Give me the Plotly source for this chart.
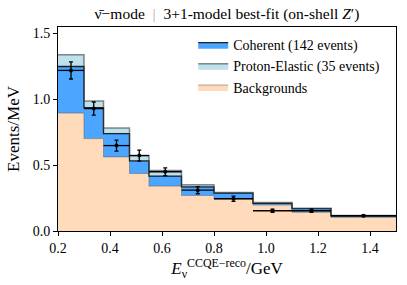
import plotly.graph_objects as go

bin_edges = [0.2, 0.3, 0.375, 0.475, 0.55, 0.675, 0.8, 0.95, 1.1, 1.25, 1.5]
backgrounds = [0.896, 0.702, 0.563, 0.437, 0.341, 0.270, 0.243, 0.197, 0.142, 0.104]
coherent = [0.354, 0.235, 0.177, 0.096, 0.076, 0.065, 0.045, 0.013, 0.028, 0.011]
proton_elastic = [0.090, 0.050, 0.043, 0.040, 0.043, 0.016, 0.005, 0.007, 0.003, 0.002]
data = [1.22, 0.93, 0.649, 0.573, 0.45, 0.31, 0.245, 0.154, 0.154, 0.116]
data_err = [0.065, 0.05, 0.042, 0.042, 0.03, 0.027, 0.02, 0.012, 0.012, 0.007]

x_ticks = [0.2, 0.4, 0.6, 0.8, 1.0, 1.2, 1.4]
y_ticks = [0.0, 0.5, 1.0, 1.5]

FONT = "Liberation Serif"

lvl1 = backgrounds
lvl2 = [b + c for b, c in zip(backgrounds, coherent)]
lvl3 = [a + p for a, p in zip(lvl2, proton_elastic)]

def steps(v):
    return list(v) + [v[-1]]

centers = [(a + b) / 2 for a, b in zip(bin_edges[:-1], bin_edges[1:])]
halfw = [(b - a) / 2 for a, b in zip(bin_edges[:-1], bin_edges[1:])]

fig = go.Figure()
fig.add_trace(go.Scatter(
    x=bin_edges, y=steps(lvl1), mode="lines", line_shape="hv",
    fill="tozeroy", fillcolor="#FFDABB",
    line=dict(color="rgba(90,90,90,0.5)", width=1),
    name="Backgrounds", legendrank=3))
fig.add_trace(go.Scatter(
    x=bin_edges, y=steps(lvl2), mode="lines", line_shape="hv",
    fill="tonexty", fillcolor="#4CA6FF",
    line=dict(color="rgba(0,0,0,0.85)", width=1.3),
    name="Coherent (142 events)", legendrank=1))
fig.add_trace(go.Scatter(
    x=bin_edges, y=steps(lvl3), mode="lines", line_shape="hv",
    fill="tonexty", fillcolor="#BEE1EC",
    line=dict(color="rgba(60,60,60,0.6)", width=1.5),
    name="Proton-Elastic (35 events)", legendrank=2))
fig.add_trace(go.Scatter(
    x=centers, y=data, mode="markers",
    marker=dict(color="black", size=4),
    error_y=dict(type="data", array=data_err, color="black", thickness=1.3, width=2),
    error_x=dict(type="data", array=halfw, color="black", thickness=1.3, width=0),
    showlegend=False))

fig.update_layout(
    width=407, height=285,
    margin=dict(l=58, r=11, t=27, b=54, autoexpand=False),
    paper_bgcolor="white", plot_bgcolor="white",
    font=dict(family=FONT, size=14, color="black"),
    title=dict(text="ν̄−mode  <span style='color:#aaaaaa'>|</span>  3+1-model best-fit (on-shell <i>Z</i>′)",
               x=0.5, xref="paper", xanchor="center", y=1 - 14 / 285, yref="container",
               yanchor="middle", automargin=False, font=dict(family=FONT, size=15.5)),
    showlegend=True,
    legend=dict(x=0.40, xanchor="left", y=0.99, yanchor="top", traceorder="normal",
                bgcolor="rgba(0,0,0,0)", font=dict(family=FONT, size=14),
                tracegroupgap=0),
)
fig.update_xaxes(range=[0.2, 1.5], tickvals=x_ticks, ticktext=[f"{t:.1f}" for t in x_ticks],
                 showline=True, linecolor="black", linewidth=1, mirror=True, automargin=False,
                 ticks="outside", ticklen=4, tickcolor="black", showgrid=False, zeroline=False,
                 title=dict(text="<i>E</i><sub>ν</sub><sup>CCQE−reco</sup>/GeV", standoff=2))
fig.update_yaxes(range=[0, 1.55], tickvals=y_ticks, ticktext=[f"{t:.1f}" for t in y_ticks],
                 showline=True, linecolor="black", linewidth=1, mirror=True, automargin=False,
                 ticks="outside", ticklen=4, tickcolor="black", showgrid=False, zeroline=False,
                 title=dict(text="Events/MeV", standoff=8))

fig.write_html("out.html", config={"displayModeBar": False},
               post_script="document.body.style.margin='0';")
